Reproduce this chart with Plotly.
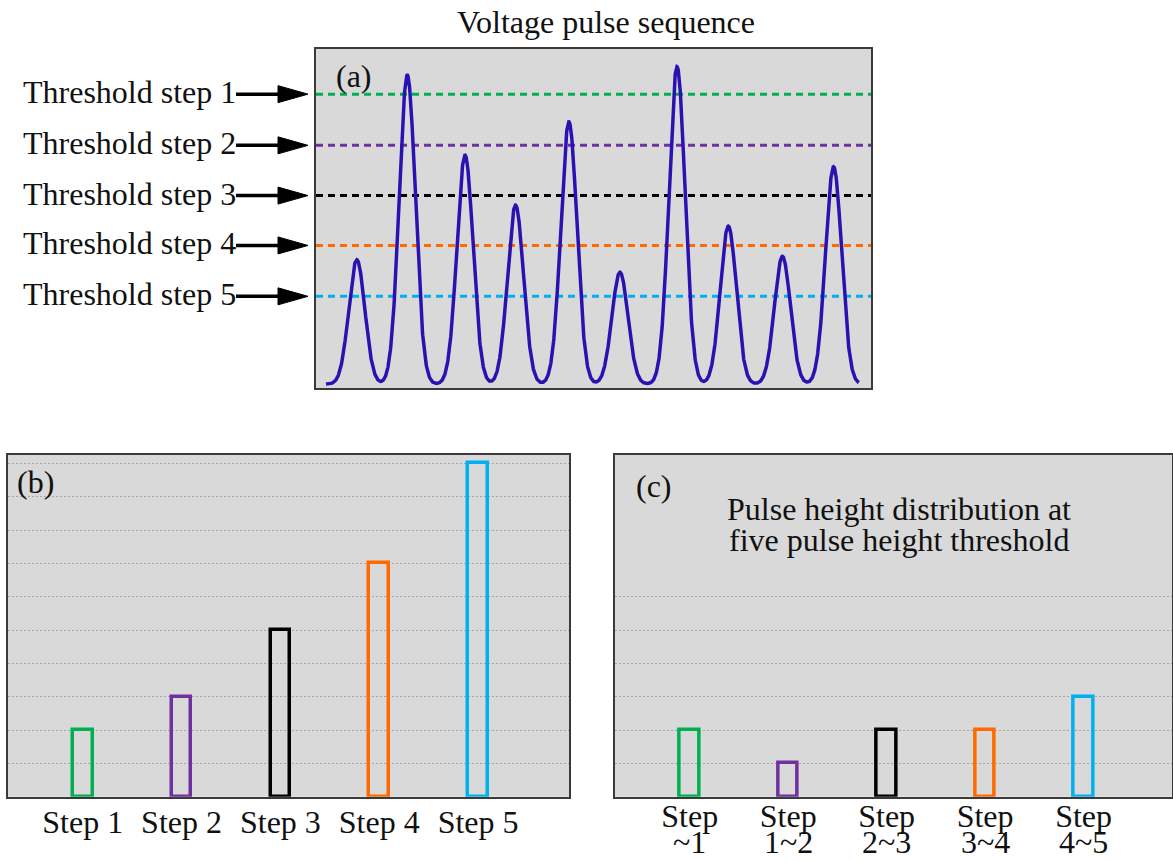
import numpy as np
import plotly.graph_objects as go

# ---------------- data ----------------
# (a) voltage pulse sequence: peak times (a.u., 0-100) and peak heights (a.u., 0-10)
pulse_times = [7.35, 16.45, 26.85, 35.95, 45.57, 54.77, 65.05, 74.29, 84.04, 93.26]
pulse_heights = [3.79, 9.23, 6.87, 5.40, 7.85, 3.42, 9.48, 4.78, 3.89, 6.53]
pulse_sigma = 1.45
baseline = 0.12
trace_start, trace_end = 1.8, 97.8

threshold_labels = ["Threshold step 1", "Threshold step 2", "Threshold step 3",
                    "Threshold step 4", "Threshold step 5"]
threshold_values = [8.67, 7.16, 5.68, 4.21, 2.71]

# (b) cumulative counts above each threshold
b_categories = ["Step 1", "Step 2", "Step 3", "Step 4", "Step 5"]
b_values = [2, 3, 5, 7, 10]

# (c) counts between thresholds
c_ranges = ["~1", "1~2", "2~3", "3~4", "4~5"]
c_values = [2, 1, 2, 2, 3]

step_colors = ["#00b050", "#7030a0", "#000000", "#ff6a00", "#00b0f0"]

# ---------------- helpers ----------------
W, H = 1173, 861
def px(x):
    return x / W
def py(y):
    return 1 - y / H

FONT = "Liberation Serif, Times New Roman, serif"
FS = 32
BG = "#d9d9d9"
BORDER = "#3a3a3a"
TXT = "#111"
GRID = "#a4a4a4"

# waveform built from the pulse list
t = np.linspace(trace_start, trace_end, 2000)
v = np.full_like(t, baseline)
for tc, h in zip(pulse_times, pulse_heights):
    v += (h - baseline) * np.exp(-0.5 * ((t - tc) / pulse_sigma) ** 2)

fig = go.Figure()

fig.add_trace(go.Scatter(x=t, y=v, mode="lines",
                         line=dict(color="#2a12b2", width=3.5),
                         xaxis="x", yaxis="y", showlegend=False, hoverinfo="skip"))

fig.add_trace(go.Bar(x=b_categories, y=b_values, width=0.2,
                     marker=dict(color="rgba(0,0,0,0)",
                                 line=dict(color=step_colors, width=3.5)),
                     xaxis="x2", yaxis="y2", showlegend=False))

fig.add_trace(go.Bar(x=c_ranges, y=c_values, width=0.2,
                     marker=dict(color="rgba(0,0,0,0)",
                                 line=dict(color=step_colors, width=3.5)),
                     xaxis="x3", yaxis="y3", showlegend=False))

shapes = []
annotations = []

# threshold lines, arrows and labels
arrow_half = 8.5 / 33.93
for lab, val, col in zip(threshold_labels, threshold_values, step_colors):
    shapes.append(dict(type="line", xref="x domain", yref="y", x0=0, x1=1, y0=val, y1=val,
                       line=dict(color=col, width=3, dash="7px,5px"), layer="below"))
    shapes.append(dict(type="line", xref="paper", yref="y", x0=px(236), x1=px(282),
                       y0=val, y1=val, line=dict(color="black", width=3.5)))
    shapes.append(dict(type="path", xref="paper", yref="y",
                       path=f"M {px(278)},{val + arrow_half} L {px(308)},{val} "
                            f"L {px(278)},{val - arrow_half} Z",
                       fillcolor="black", line=dict(color="black", width=1)))
    annotations.append(dict(text=lab, xref="paper", yref="y", x=px(21), y=val,
                            xanchor="left", yanchor="middle", showarrow=False, yshift=2,
                            font=dict(family=FONT, size=FS, color=TXT)))

def label(text, x, y, xanchor="left"):
    annotations.append(dict(text=text, xref="paper", yref="paper", x=px(x), y=py(y),
                            xanchor=xanchor, yanchor="middle", showarrow=False,
                            font=dict(family=FONT, size=FS, color=TXT)))

label("Voltage pulse sequence", 606, 22, "center")
label("(a)", 334, 76)
label("(b)", 15, 482)
label("(c)", 634, 486)
label("Pulse height distribution at", 899, 509, "center")
label("five pulse height threshold", 899, 540, "center")

# second line of (c) tick labels
for r in c_ranges:
    annotations.append(dict(text=r, xref="x3", yref="paper", x=r, y=0,
                            xanchor="center", yanchor="bottom", showarrow=False,
                            borderpad=0,
                            font=dict(family=FONT, size=FS, color=TXT)))

box = dict(showline=True, mirror=True, linecolor=BORDER, linewidth=2,
           zeroline=False, ticks="")

fig.update_layout(
    width=W, height=H,
    margin=dict(l=0, r=0, t=0, b=0),
    paper_bgcolor="white", plot_bgcolor=BG,
    bargap=0,
    shapes=shapes, annotations=annotations,
    xaxis=dict(domain=[px(316), px(871)], range=[0, 100], showgrid=False,
               showticklabels=False, anchor="y", **box),
    yaxis=dict(domain=[py(388.3), py(49)], range=[0, 10], showgrid=False,
               showticklabels=False, anchor="x", **box),
    xaxis2=dict(domain=[px(8), px(569)], type="category", range=[-0.756, 4.92],
                showgrid=False, anchor="y2", ticklabelstandoff=-4,
                tickfont=dict(family=FONT, size=FS, color=TXT), **box),
    yaxis2=dict(domain=[py(796.7), py(455)], range=[0, 10.25], showgrid=True,
                tickvals=list(range(1, 11)), gridcolor=GRID, gridwidth=1,
                griddash="2px,2px", showticklabels=False, anchor="x2", **box),
    xaxis3=dict(domain=[px(614.6), px(1172)], type="category", range=[-0.763, 4.898],
                showgrid=False, anchor="y3", ticklabelstandoff=-10,
                tickvals=c_ranges, ticktext=["Step"] * len(c_ranges),
                tickfont=dict(family=FONT, size=FS, color=TXT), **box),
    yaxis3=dict(domain=[py(796.7), py(455)], range=[0, 10.25], showgrid=True,
                tickvals=list(range(1, 7)), gridcolor=GRID, gridwidth=1,
                griddash="2px,2px", showticklabels=False, anchor="x3", **box),
)

fig.write_html("out.html", config={"displayModeBar": False},
               post_script="document.body.style.margin='0px';")
